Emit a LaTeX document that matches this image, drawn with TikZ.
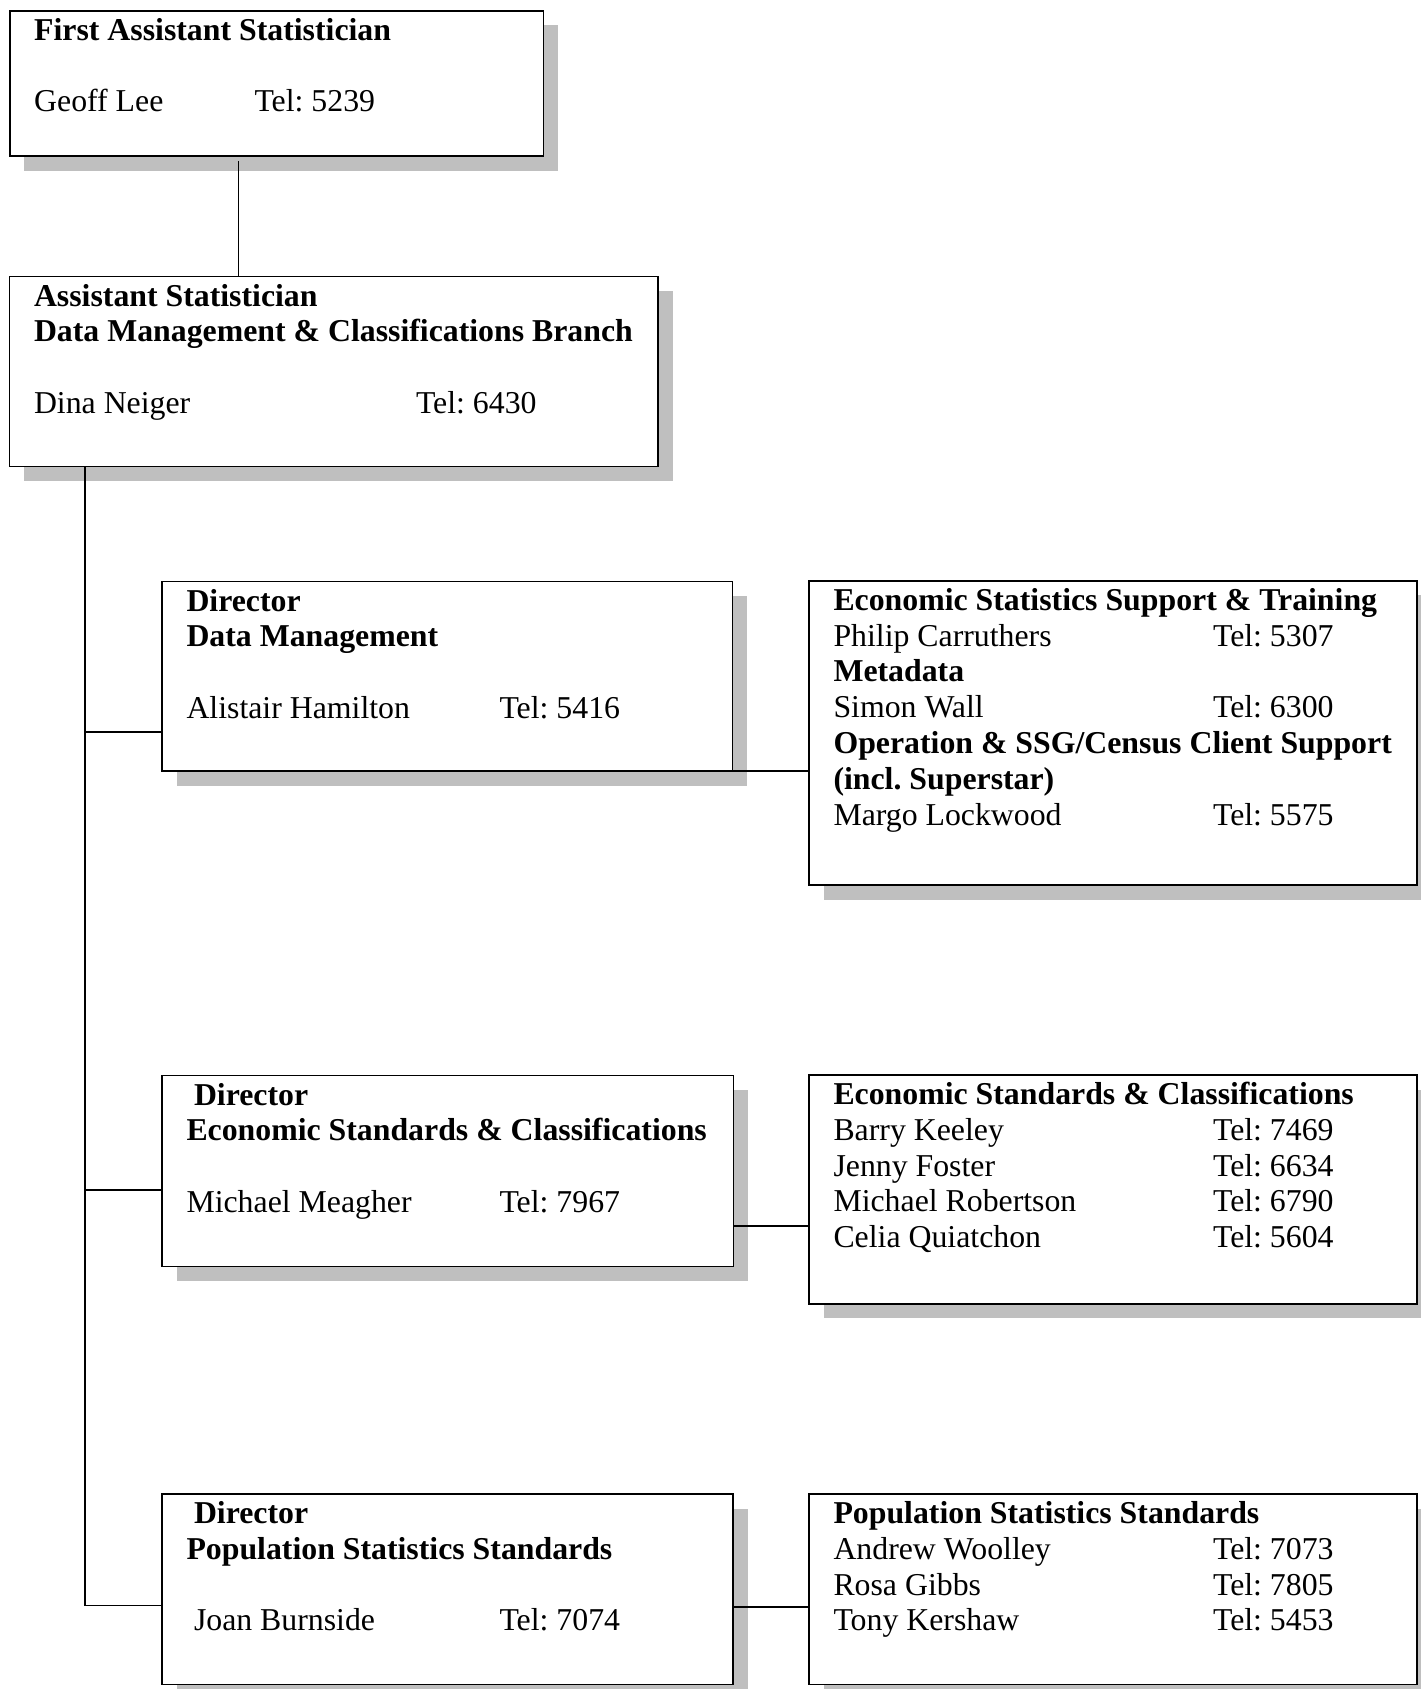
\documentclass[tikz,border=0pt]{standalone}
\usepackage{fontspec}
\setmainfont{Liberation Serif}
\usetikzlibrary{shadows}
\frenchspacing
\tikzset{
  box/.style={draw=black, line width=1.8pt, fill=white, inner sep=0pt, outer sep=0pt, anchor=north west,
    drop shadow={shadow xshift=14.5pt, shadow yshift=-14.5pt, fill=black!25, opacity=1}},
  txt/.style={anchor=base west, inner sep=0pt, outer sep=0pt, font=\fontsize{31.8}{35.8}\selectfont},
  btxt/.style={txt, font=\fontsize{31.8}{35.8}\selectfont\bfseries},
  conn/.style={draw=black, line width=1.8pt}
}
\begin{document}
\begin{tikzpicture}[x=1pt, y=-1pt]
\useasboundingbox (0,0) rectangle (1421,1689);
\fill[white] (0,0) rectangle (1421,1689);
\clip (0,0) rectangle (1421,1689);

% boxes
\node[box, minimum width=533.8pt, minimum height=145.2pt] (A) at (9.7,10.8) {};
\node[box, minimum width=648.8pt, minimum height=190pt] (B) at (9.5,276.5) {};
\node[box, minimum width=570.5pt, minimum height=189.8pt] (C) at (162,581.5) {};
\node[box, minimum width=607.7pt, minimum height=304.5pt] (E) at (809,580.7) {};
\node[box, minimum width=571.5pt, minimum height=191pt] (D) at (162,1075.5) {};
\node[box, minimum width=607.7pt, minimum height=228.8pt] (F) at (809,1075) {};
\node[box, minimum width=571.3pt, minimum height=190.5pt] (G) at (162,1494) {};
\node[box, minimum width=607.7pt, minimum height=190.5pt] (H) at (809,1494) {};

% texts box A
\node[btxt] (a1) at (34.2,40.3) {First Assistant Statistician};
\node[txt] (a2) at (34.2,111.9) {Geoff Lee};
\node[txt] (a3) at (254.5,111.9) {Tel: 5239};
% box B
\node[btxt] (b1) at (34,306) {Assistant Statistician};
\node[btxt] (b2) at (34,341.8) {Data Management \& Classifications Branch};
\node[txt] (b3) at (34,413.4) {Dina Neiger};
\node[txt] (b4) at (416,413.4) {Tel: 6430};
% box C
\node[btxt] (c1) at (186.5,611) {Director};
\node[btxt] (c2) at (186.5,646.8) {Data Management};
\node[txt] (c3) at (186.5,718.4) {Alistair Hamilton};
\node[txt] (c4) at (499.5,718.4) {Tel: 5416};
% box E
\node[btxt] (e1) at (833.5,610.2) {Economic Statistics Support \& Training};
\node[txt] (e2) at (833.5,646) {Philip Carruthers};
\node[txt] (e3) at (1213,646) {Tel: 5307};
\node[btxt] (e4) at (833.5,681.8) {Metadata};
\node[txt] (e5) at (833.5,717.6) {Simon Wall};
\node[txt] (e6) at (1213,717.6) {Tel: 6300};
\node[btxt] (e7) at (833.5,753.4) {Operation \& SSG/Census Client Support};
\node[btxt] (e8) at (833.5,789.2) {(incl. Superstar)};
\node[txt] (e9) at (833.5,825) {Margo Lockwood};
\node[txt] (e10) at (1213,825) {Tel: 5575};
% box D
\node[btxt] (d1) at (194,1105) {Director};
\node[btxt] (d2) at (186.5,1140.8) {Economic Standards \& Classifications};
\node[txt] (d3) at (186.5,1212.4) {Michael Meagher};
\node[txt] (d4) at (499.5,1212.4) {Tel: 7967};
% box F
\node[btxt] (f1) at (833.5,1104.5) {Economic Standards \& Classifications};
\node[txt] (f2) at (833.5,1140.3) {Barry Keeley};
\node[txt] (f3) at (1213,1140.3) {Tel: 7469};
\node[txt] (f4) at (833.5,1176.1) {Jenny Foster};
\node[txt] (f5) at (1213,1176.1) {Tel: 6634};
\node[txt] (f6) at (833.5,1211.9) {Michael Robertson};
\node[txt] (f7) at (1213,1211.9) {Tel: 6790};
\node[txt] (f8) at (833.5,1247.7) {Celia Quiatchon};
\node[txt] (f9) at (1213,1247.7) {Tel: 5604};
% box G
\node[btxt] (g1) at (194,1523.5) {Director};
\node[btxt] (g2) at (186.5,1559.3) {Population Statistics Standards};
\node[txt] (g3) at (194,1630.9) {Joan Burnside};
\node[txt] (g4) at (499.5,1630.9) {Tel: 7074};
% box H
\node[btxt] (h1) at (833.5,1523.5) {Population Statistics Standards};
\node[txt] (h2) at (833.5,1559.3) {Andrew Woolley};
\node[txt] (h3) at (1213,1559.3) {Tel: 7073};
\node[txt] (h4) at (833.5,1595.1) {Rosa Gibbs};
\node[txt] (h5) at (1213,1595.1) {Tel: 7805};
\node[txt] (h6) at (833.5,1630.9) {Tony Kershaw};
\node[txt] (h7) at (1213,1630.9) {Tel: 5453};

% connectors
\coordinate (ab) at (238.5,161);
\coordinate (tr) at (85,0);
\coordinate (cs) at (85,731.7);
\coordinate (ds) at (85,1190);
\coordinate (gs) at (85,1605.5);
\coordinate (df) at (0,1225.7);
\coordinate (gh) at (0,1606.7);
\draw[conn] (ab) -- (ab |- B.north);
\draw[conn] (tr |- B.south) -- (gs) -- (gs -| G.west);
\draw[conn] (cs) -- (cs -| C.west);
\draw[conn] (ds) -- (ds -| D.west);
\draw[conn] (C.south east) -- (C.south east -| E.west);
\draw[conn] (df -| D.east) -- (df -| F.west);
\draw[conn] (gh -| G.east) -- (gh -| H.west);
\end{tikzpicture}
\end{document}
